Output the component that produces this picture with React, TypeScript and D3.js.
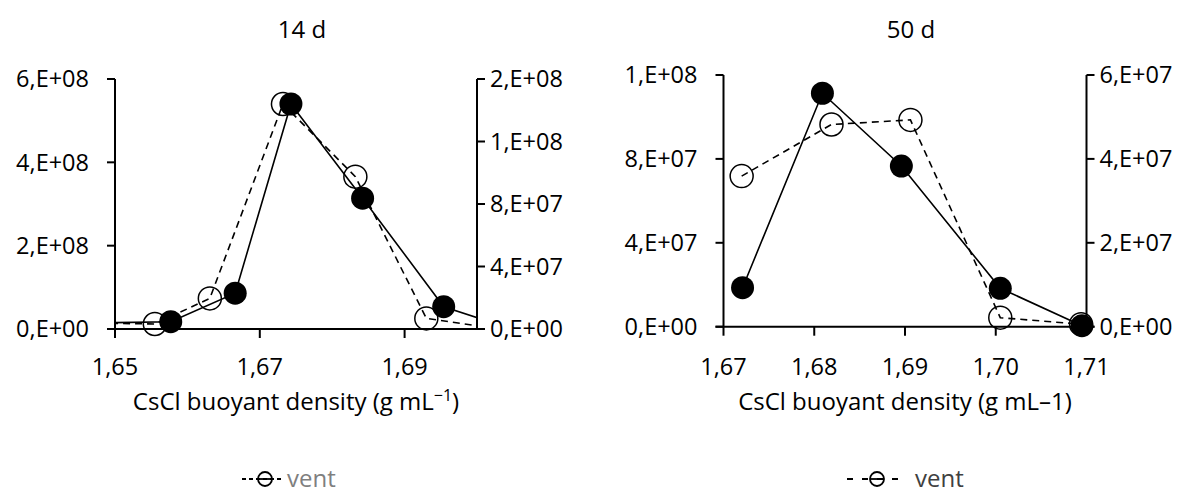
import React from "react";
import * as d3 from "d3";

// 14 d gradient: densities (g mL-1) and quantities, filled series on the left axis
const D14_TOTAL_DENSITY = [1.6488, 1.6577, 1.6666, 1.6743, 1.6842, 1.6954, 1.7045];
const D14_TOTAL = [1.5e7, 1.75e7, 8.6e7, 5.4e8, 3.14e8, 5.35e7, 2e6];
// 14 d vent series on the right axis
const D14_VENT_DENSITY = [1.6478, 1.6555, 1.6631, 1.6732, 1.6832, 1.693, 1.7025];
const D14_VENT = [3.8e6, 3.2e6, 1.96e7, 1.44e8, 9.75e7, 6.8e6, 3e5];

// 50 d gradient
const D50_TOTAL_DENSITY = [1.6721, 1.6809, 1.6896, 1.7005, 1.7095];
const D50_TOTAL = [1.86e7, 1.113e8, 7.66e7, 1.83e7, 5e5];
const D50_VENT_DENSITY = [1.672, 1.6819, 1.6906, 1.7005, 1.7094];
const D50_VENT = [3.59e7, 4.82e7, 4.93e7, 2.15e6, 6e5];

// Axis ticks
const D14_X_TICKS = [1.65, 1.67, 1.69];
const D14_LEFT_TICKS = [0, 2e8, 4e8, 6e8];
const D14_RIGHT_TICKS = [0, 4e7, 8e7, 1.2e8, 1.6e8];
const D50_X_TICKS = [1.67, 1.68, 1.69, 1.7, 1.71];
const D50_LEFT_TICKS = [0, 4e7, 8e7, 1.2e8];
const D50_RIGHT_TICKS = [0, 2e7, 4e7, 6e7];

const FONT = "'Open Sans', 'Noto Sans', sans-serif";

// Excel-style "0,E+00" scientific label with decimal comma
function sci(v: number): string {
  if (v === 0) return "0,E+00";
  let e = Math.floor(Math.log10(v));
  let m = Math.round(v / Math.pow(10, e));
  if (m >= 10) {
    m = 1;
    e += 1;
  }
  return `${m},E${e >= 0 ? "+" : "-"}${String(Math.abs(e)).padStart(2, "0")}`;
}
const fmtX = (v: number) => d3.format(".2f")(v).replace(".", ",");

type Box = { left: number; right: number; top: number; bottom: number };

interface PanelProps {
  id: string;
  box: Box;
  title: string;
  xDomain: [number, number];
  xTicks: number[];
  leftTicks: number[];
  rightTicks: number[];
  totalX: number[];
  totalY: number[];
  ventX: number[];
  ventY: number[];
  xLabel: React.ReactNode;
  legend: { start: number; end: number; circle: number; text: number; dash: string; color: string };
}

function Panel(p: PanelProps) {
  const { box } = p;
  const x = d3.scaleLinear().domain(p.xDomain).range([box.left, box.right]);
  const yL = d3
    .scaleLinear()
    .domain([0, p.leftTicks[p.leftTicks.length - 1]])
    .range([box.bottom, box.top]);
  const yR = d3
    .scaleLinear()
    .domain([0, p.rightTicks[p.rightTicks.length - 1]])
    .range([box.bottom, box.top]);

  const total = p.totalX.map((d, i) => [d, p.totalY[i]] as [number, number]);
  const vent = p.ventX.map((d, i) => [d, p.ventY[i]] as [number, number]);
  const inRange = (d: [number, number]) => d[0] >= p.xDomain[0] - 1e-9 && d[0] <= p.xDomain[1] + 1e-9;

  const lineL = d3
    .line<[number, number]>()
    .x((d) => x(d[0]))
    .y((d) => yL(d[1]));
  const lineR = d3
    .line<[number, number]>()
    .x((d) => x(d[0]))
    .y((d) => yR(d[1]));

  const cx = (box.left + box.right) / 2;
  const r = 11.5;
  const ly = 479;

  return (
    <g>
      <defs>
        <clipPath id={p.id}>
          <rect x={box.left} y={box.top - 20} width={box.right - box.left} height={box.bottom - box.top + 20} />
        </clipPath>
      </defs>
      <text x={cx + 6} y={38} textAnchor="middle" fontFamily={FONT} fontSize={24} fill="#000">
        {p.title}
      </text>

      {/* axes */}
      <g stroke="#000" strokeWidth={2} fill="none">
        <line x1={box.left} x2={box.left} y1={yL.range()[1]} y2={box.bottom} />
        <line x1={box.right} x2={box.right} y1={yR.range()[1]} y2={box.bottom} />
        <line x1={box.left - 8} x2={box.right + 8} y1={box.bottom} y2={box.bottom} />
        {p.leftTicks.map((t) => (
          <line key={"l" + t} x1={box.left - 8} x2={box.left} y1={yL(t)} y2={yL(t)} />
        ))}
        {p.rightTicks.map((t) => (
          <line key={"r" + t} x1={box.right} x2={box.right + 8} y1={yR(t)} y2={yR(t)} />
        ))}
        {p.xTicks.map((t) => (
          <line key={"x" + t} x1={x(t)} x2={x(t)} y1={box.bottom} y2={box.bottom + 9} />
        ))}
      </g>
      <g fontFamily={FONT} fontSize={23.5} fill="#000">
        {p.leftTicks.map((t) => (
          <text key={"lt" + t} x={box.left - 26} y={yL(t)} dy="0.36em" textAnchor="end">
            {sci(t)}
          </text>
        ))}
        {p.rightTicks.map((t) => (
          <text key={"rt" + t} x={box.right + 13} y={yR(t)} dy="0.36em" textAnchor="start">
            {sci(t)}
          </text>
        ))}
        {p.xTicks.map((t) => (
          <text key={"xt" + t} x={x(t)} y={375} textAnchor="middle">
            {fmtX(t)}
          </text>
        ))}
      </g>
      <text x={cx} y={410} textAnchor="middle" fontFamily={FONT} fontSize={24} fill="#000">
        {p.xLabel}
      </text>

      {/* vent series (open markers, dashed) */}
      <g clipPath={`url(#${p.id})`}>
        <path d={lineR(vent) ?? ""} fill="none" stroke="#000" strokeWidth={1.6} strokeDasharray="7,5" />
      </g>
      {vent.filter(inRange).map((d, i) => (
        <circle key={"v" + i} cx={x(d[0])} cy={yR(d[1])} r={r} fill="none" stroke="#000" strokeWidth={1.5} />
      ))}

      {/* total series (filled markers, solid) */}
      <g clipPath={`url(#${p.id})`}>
        <path d={lineL(total) ?? ""} fill="none" stroke="#000" strokeWidth={1.6} />
      </g>
      {total.filter(inRange).map((d, i) => (
        <circle key={"t" + i} cx={x(d[0])} cy={yL(d[1])} r={r} fill="#000" />
      ))}

      {/* legend */}
      <g>
        <line
          x1={p.legend.start}
          x2={p.legend.end}
          y1={ly}
          y2={ly}
          stroke="#000"
          strokeWidth={1.8}
          strokeDasharray={p.legend.dash}
        />
        <line x1={p.legend.circle - 7} x2={p.legend.circle + 7} y1={ly} y2={ly} stroke="#000" strokeWidth={1.8} />
        <circle cx={p.legend.circle} cy={ly} r={7} fill="none" stroke="#000" strokeWidth={1.8} />
        <text x={p.legend.text} y={487} fontFamily={FONT} fontSize={24} fill={p.legend.color}>
          vent
        </text>
      </g>
    </g>
  );
}

export default function App() {
  return (
    <svg width={1201} height={500} style={{ display: "block", position: "absolute", left: 0, top: 0 }}>
      <rect width={1201} height={500} fill="#fff" />
      <Panel
        id="clip14"
        box={{ left: 115, right: 477, top: 79, bottom: 329 }}
        title="14 d"
        xDomain={[1.65, 1.7]}
        xTicks={D14_X_TICKS}
        leftTicks={D14_LEFT_TICKS}
        rightTicks={D14_RIGHT_TICKS}
        totalX={D14_TOTAL_DENSITY}
        totalY={D14_TOTAL}
        ventX={D14_VENT_DENSITY}
        ventY={D14_VENT}
        xLabel={
          <>
            CsCl buoyant density (g mL
            <tspan fontSize={16} dy={-9}>
              −1
            </tspan>
            <tspan dy={9}>)</tspan>
          </>
        }
        legend={{ start: 242, end: 282, circle: 265, text: 287, dash: "4,3", color: "#7f7f7f" }}
      />
      <Panel
        id="clip50"
        box={{ left: 723.5, right: 1086.5, top: 75, bottom: 326.7 }}
        title="50 d"
        xDomain={[1.67, 1.71]}
        xTicks={D50_X_TICKS}
        leftTicks={D50_LEFT_TICKS}
        rightTicks={D50_RIGHT_TICKS}
        totalX={D50_TOTAL_DENSITY}
        totalY={D50_TOTAL}
        ventX={D50_VENT_DENSITY}
        ventY={D50_VENT}
        xLabel={<>CsCl buoyant density (g mL–1)</>}
        legend={{ start: 847, end: 900, circle: 877, text: 915, dash: "6,9", color: "#404040" }}
      />
    </svg>
  );
}
